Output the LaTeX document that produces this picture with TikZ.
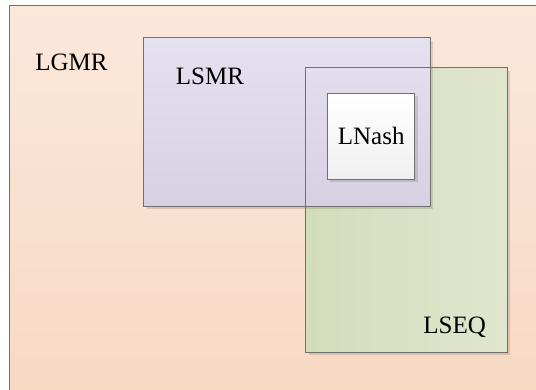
\documentclass[tikz,border=0pt]{standalone}
\usepackage{fontspec}
\setmainfont{Liberation Serif}
\usetikzlibrary{shadows}
\definecolor{bgtop}{HTML}{FBE8DB}
\definecolor{bgbot}{HTML}{F7D8C3}
\definecolor{ptop}{HTML}{E5E1EF}
\definecolor{pbot}{HTML}{D7D0E3}
\definecolor{gleft}{HTML}{D2DDBC}
\definecolor{gright}{HTML}{E0E6CD}
\definecolor{edge}{HTML}{707070}
\tikzset{
  box/.style={rectangle, inner sep=0pt, line width=1pt,
    drop shadow={shadow xshift=3pt, shadow yshift=-3pt, opacity=0.12, fill=black}},
  frame/.style={draw=edge, line width=1pt},
  lbl/.style={inner sep=0pt, anchor=base, font=\fontsize{25}{30}\selectfont}
}
\begin{document}
\begin{tikzpicture}[x=1pt,y=-1pt]
\useasboundingbox (0,0) rectangle (536,390);
\begin{scope}
\clip (0,0) rectangle (536,390);
\node[rectangle, inner sep=0pt, top color=bgtop, bottom color=bgbot, draw=edge, line width=1pt,
  minimum width=540pt, minimum height=400pt, anchor=north west] (lgmrbox) at (9,5) {};
\end{scope}
\node[box, left color=gleft, right color=gright, minimum width=201pt, minimum height=284.3pt] (lseqbox) at (406.2,209.9) {};
\node[box, top color=ptop, bottom color=pbot, minimum width=285.5pt, minimum height=168pt] (lsmrbox) at (286.75,122) {};
\draw[frame] (lseqbox.south west) rectangle (lseqbox.north east);
\draw[frame] (lsmrbox.south west) rectangle (lsmrbox.north east);
\node[box, top color=white, bottom color=black!6, draw=edge, minimum width=87.4pt, minimum height=86pt] (lnashbox) at (371,136.3) {};
\node[lbl] (lgmr) at (71.5,70.7) {LGMR};
\node[lbl] (lsmr) at (210,85) {LSMR};
\node[lbl] (lnash) at (371.2,145) {LNash};
\node[lbl] (lseq) at (454.7,333.3) {LSEQ};
\end{tikzpicture}
\end{document}
